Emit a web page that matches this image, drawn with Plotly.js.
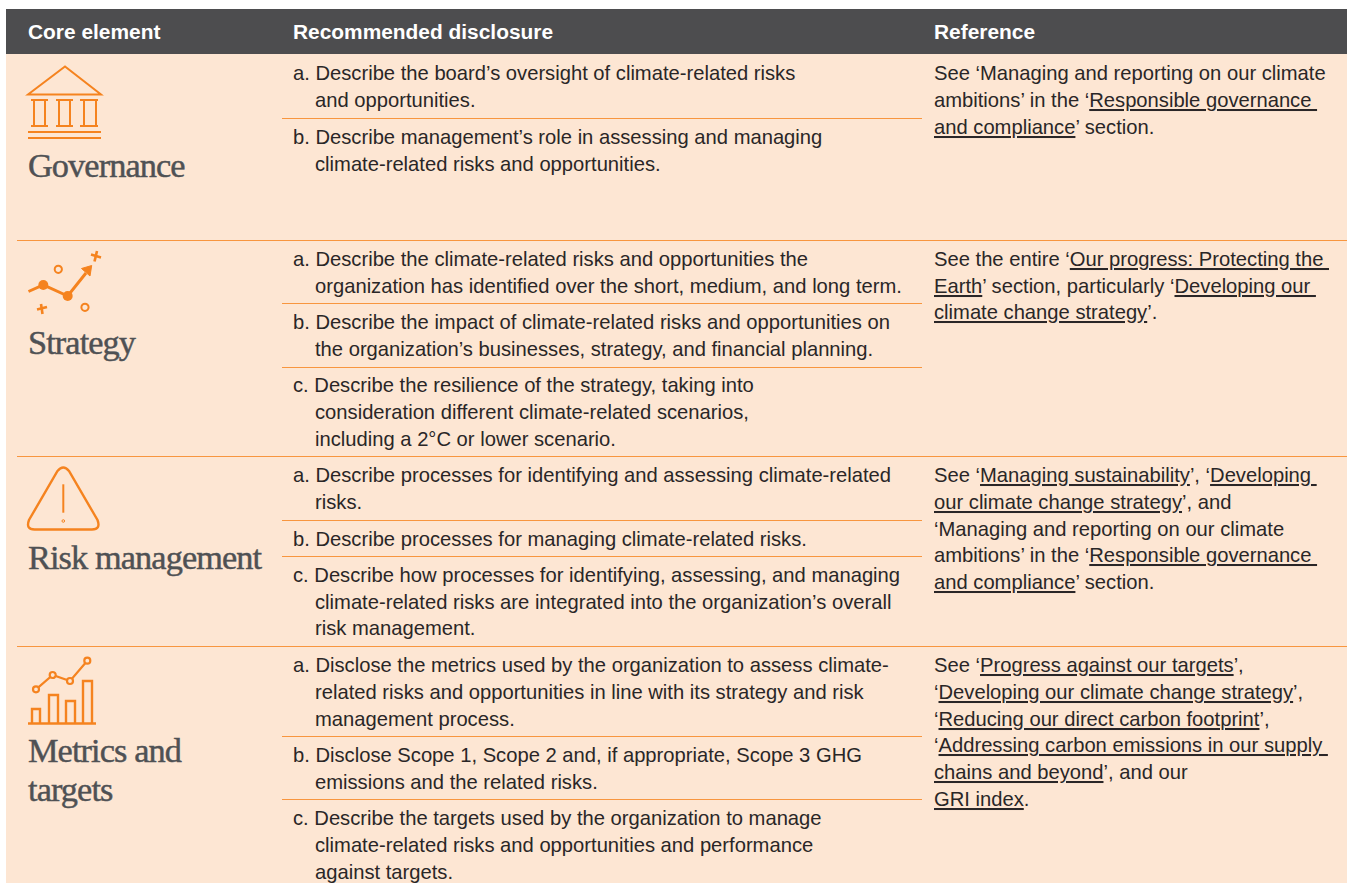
<!DOCTYPE html>
<html><head><meta charset="utf-8">
<script src="https://cdn.plot.ly/plotly-3.0.0.min.js"></script>
<style>html,body{margin:0;padding:0;background:#fff}</style></head>
<body><div id="chart" style="width:1347px;height:884px"></div>
<script>
const headerLabels = ["Core element", "Recommended disclosure", "Reference"];
const coreElementLines = ["Governance", "Strategy", "Risk management", "Metrics and", "targets"];
const disclosureLines = [
 "a. Describe the board’s oversight of climate-related risks",
 "and opportunities.",
 "b. Describe management’s role in assessing and managing",
 "climate-related risks and opportunities.",
 "a. Describe the climate-related risks and opportunities the",
 "organization has identified over the short, medium, and long term.",
 "b. Describe the impact of climate-related risks and opportunities on",
 "the organization’s businesses, strategy, and financial planning.",
 "c. Describe the resilience of the strategy, taking into",
 "consideration different climate-related scenarios,",
 "including a 2°C or lower scenario.",
 "a. Describe processes for identifying and assessing climate-related",
 "risks.",
 "b. Describe processes for managing climate-related risks.",
 "c. Describe how processes for identifying, assessing, and managing",
 "climate-related risks are integrated into the organization’s overall",
 "risk management.",
 "a. Disclose the metrics used by the organization to assess climate-",
 "related risks and opportunities in line with its strategy and risk",
 "management process.",
 "b. Disclose Scope 1, Scope 2 and, if appropriate, Scope 3 GHG",
 "emissions and the related risks.",
 "c. Describe the targets used by the organization to manage",
 "climate-related risks and opportunities and performance",
 "against targets."
];
const referenceLines = [
 "See ‘Managing and reporting on our climate",
 "ambitions’ in the ‘_Responsible governance\u00a0_",
 "_and compliance_’ section.",
 "See the entire ‘_Our progress: Protecting the\u00a0_",
 "_Earth_’ section, particularly ‘_Developing our\u00a0_",
 "_climate change strategy_’.",
 "See ‘_Managing sustainability_’, ‘_Developing\u00a0_",
 "_our climate change strategy_’, and",
 "‘Managing and reporting on our climate",
 "ambitions’ in the ‘_Responsible governance\u00a0_",
 "_and compliance_’ section.",
 "See ‘_Progress against our targets_’,",
 "‘_Developing our climate change strategy_’,",
 "‘_Reducing our direct carbon footprint_’,",
 "‘_Addressing carbon emissions in our supply\u00a0_",
 "_chains and beyond_’, and our",
 "_GRI index_."
];

// Layout geometry, in page pixels
const headerX = [27, 292, 933];
const coreY = [165, 342, 557, 750, 789];
const discY = [73,100,137,164,259,286,322,349,385,412,439,475,502,539,575,602,628,665,692,719,755,782,818,845,872];
const refY = [73,100,127,259,286,312,475,502,529,555,582,665,692,719,745,772,799];
const innerRules = [118,303,367,520,556,736,799];
const outerRules = [240,456,646];

const ORANGE = "#f5831f", TEXT = "#2a2627", GREY = "#4f5154";
const SANS = "Liberation Sans, Arial, sans-serif", SERIF = "Liberation Serif, serif";

const under = s => s.replace(/_([^_]+)_/g, '<span style="text-decoration:underline">$1</span>');
const note = (x, y, text, size, color, family) => ({
  xref:"x", yref:"y", x, y, text, showarrow:false, xanchor:"left", yanchor:"middle",
  align:"left", borderpad:0, font:{family, size, color}
});
const annotations = [];
headerLabels.forEach((t,i)=>annotations.push(note(headerX[i],31.5,"<b>"+t+"</b>",20.9,"#ffffff",SANS)));
coreElementLines.forEach((t,i)=>annotations.push(note(27,coreY[i],
  '<span style="letter-spacing:-0.9px;stroke:'+GREY+';stroke-width:0.45px">'+t+'</span>',34.3,GREY,SERIF)));
disclosureLines.forEach((t,i)=>{
  const prefixed = /^[abc]\. /.test(t);
  annotations.push(note(prefixed?292:314,discY[i],t,20.2,TEXT,SANS));
});
referenceLines.forEach((t,i)=>annotations.push(note(933,refY[i],under(t),20.2,TEXT,SANS)));

const rect=(x0,y0,x1,y1,fill)=>({type:"rect",xref:"x",yref:"y",x0,y0,x1,y1,fillcolor:fill,line:{width:0},layer:"below"});
const seg=(x0,y0,x1,y1,color,w)=>({type:"line",xref:"x",yref:"y",x0,y0,x1,y1,line:{color,width:w}});
const path=(d,w,fill)=>({type:"path",xref:"x",yref:"y",path:d,line:{color:ORANGE,width:w},fillcolor:fill||"rgba(0,0,0,0)"});
const circ=(cx,cy,r,w,fill)=>({type:"circle",xref:"x",yref:"y",x0:cx-r,x1:cx+r,y0:cy-r,y1:cy+r,line:{color:ORANGE,width:w},fillcolor:fill||"rgba(0,0,0,0)"});

const shapes = [
  rect(6,54,1347,883,"#fde6d3"),
  rect(6,9,1347,54,"#4d4d4f"),
];
innerRules.forEach(y=>shapes.push(seg(282,y+0.5,922,y+0.5,"#f8963f",1)));
outerRules.forEach(y=>shapes.push(seg(17,y+0.5,1347,y+0.5,"#f8963f",1)));
// Governance icon
shapes.push(path("M28,94.5 L65,66.5 L101,94.5 Z",2));
[[31,48,34,45],[56,73,59,70],[80,98,84,96]].forEach(c=>{
  shapes.push(seg(c[0],100,c[1],100,ORANGE,2), seg(c[0],126,c[1],126,ORANGE,2),
              seg(c[2],100,c[2],126,ORANGE,2), seg(c[3],100,c[3],126,ORANGE,2));
});
shapes.push(seg(28,132,101,132,ORANGE,2.2), seg(28,138,101,138,ORANGE,2));
// Strategy icon
shapes.push(path("M28.5,291.5 L43.3,285 L67.7,296 L86,273",3));
shapes.push(circ(43.3,285,5,0,ORANGE), circ(67.7,296,5,0,ORANGE));
shapes.push(path("M91.7,265.5 L81.5,268.5 L90,276 Z",1,ORANGE));
shapes.push(circ(58.3,269.3,3.6,2), circ(85,307.3,3.6,2));
shapes.push(seg(91,254.5,101,257.5,ORANGE,2.6), seg(97,251,94.5,261.5,ORANGE,2.6));
shapes.push(seg(37,309.5,47,307,ORANGE,2.6), seg(41,304,42.5,314,ORANGE,2.6));
// Risk icon
shapes.push(path("M57.5,471 Q63.3,464 69,471 L97.5,520 Q101,529.5 92,529.5 L34.5,529.5 Q25.5,529.5 29,520 Z",2.4));
shapes.push(seg(63.3,484.3,63.3,512.7,ORANGE,2), circ(63.3,521,1.3,1));
// Metrics icon
shapes.push(path("M36,689.3 L52.7,675 L70,681 L87.3,660.7",2.2));
[[36,689.3],[52.7,675],[70,681],[87.3,660.7]].forEach(p=>shapes.push(circ(p[0],p[1],3,2.2,"#fde6d3")));
[[32,40,709],[49,58,695],[66,75,701],[83,92,681]].forEach(b=>
  shapes.push(path(`M${b[0]},723 L${b[0]},${b[2]} L${b[1]},${b[2]} L${b[1]},723`,2.4)));
shapes.push(seg(28,723.5,96,723.5,ORANGE,2.6));

Plotly.newPlot("chart",[],{
  width:1347,height:884,margin:{l:0,r:0,t:0,b:0},
  paper_bgcolor:"#fff",plot_bgcolor:"#fff",showlegend:false,
  xaxis:{range:[0,1347],visible:false,fixedrange:true},
  yaxis:{range:[884,0],visible:false,fixedrange:true},
  shapes,annotations
},{staticPlot:true,displayModeBar:false});
</script></body></html>
